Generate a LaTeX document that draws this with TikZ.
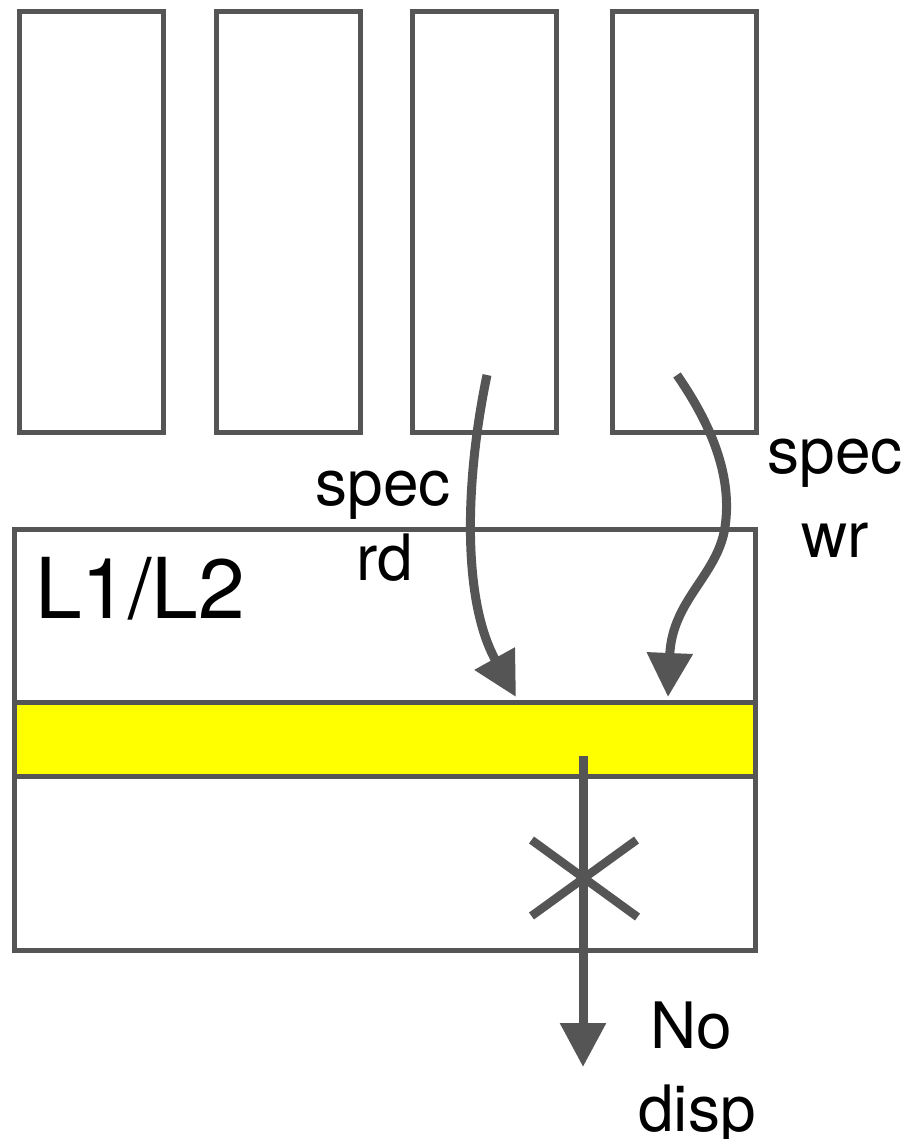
\documentclass[tikz,border=0pt]{standalone}
\usepackage{fontspec}
\setmainfont{TeX Gyre Heros}
\usetikzlibrary{arrows.meta,calc}
\definecolor{edge}{HTML}{555555}
\definecolor{band}{HTML}{FFFF00}
\begin{document}
\begin{tikzpicture}[x=1pt,y=-1pt,
  core/.style={draw=edge,line width=5pt,inner sep=0pt,minimum width=144pt,minimum height=421pt},
  cachebox/.style={draw=edge,line width=5pt,inner sep=0pt,minimum width=741pt,minimum height=421pt},
  lineband/.style={draw=edge,fill=band,line width=5pt,inner sep=0pt,minimum width=741pt,minimum height=74pt},
  flow/.style={draw=edge,line width=9pt,-{Triangle[length=44pt,width=44pt]}},
  cross/.style={draw=edge,line width=8.5pt},
  lbl/.style={font=\fontsize{64}{70}\selectfont,inner sep=0pt,anchor=base},
  biglbl/.style={font=\fontsize{84}{90}\selectfont,inner sep=0pt,anchor=base west}]
\useasboundingbox (0,0) rectangle (914,1139);
\fill[white] (0,0) rectangle (914,1139);
% cores
\node[core] (c1) at (91.5,222.25) {};
\node[core] (c2) at (288,222.25) {};
\node[core] (c3) at (484.5,222.25) {};
\node[core] (c4) at (684,222.25) {};
% cache
\node[cachebox] (cache) at (384.5,739.5) {};
\node[lineband] (line) at (384.5,739.7) {};
\node[biglbl] (l12) at (35,618) {L1/L2};
% coordinates
\coordinate (rdS) at (487,375);
\coordinate (rdE) at (516,697);
\coordinate (wrS) at (677,375);
\coordinate (wrM) at (725,527);
\coordinate (wrE) at (668,697);
\coordinate (dS) at (583,756);
\coordinate (dE) at (583,1067);
\coordinate (xc) at (584.5,878);
% arrows
\draw[flow] (rdS) .. controls (465,480) and (462,600) .. (rdE);
\draw[flow] (wrS) .. controls (715,430) and (732,480) .. (wrM)
  .. controls (718,575) and (672,600) .. (wrE);
\draw[flow] (dS) -- (dE);
\draw[cross] ($(xc)+(-53,-38)$) -- ($(xc)+(53,39)$);
\draw[cross] ($(xc)+(-53,38)$) -- ($(xc)+(52,-38)$);
% labels
\node[lbl] (t1) at (383,505) {spec};
\node[lbl] (t2) at (385,580) {rd};
\node[lbl] (t3) at (835,473) {spec};
\node[lbl] (t4) at (835,557) {wr};
\node[lbl] (t5) at (691,1048) {No};
\node[lbl] (t6) at (697,1131) {disp};
\end{tikzpicture}
\end{document}
